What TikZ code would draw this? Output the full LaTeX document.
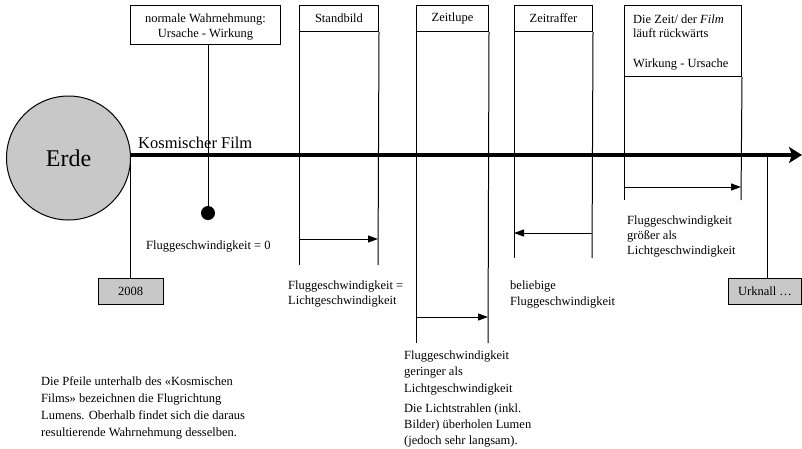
\documentclass[tikz,border=0pt]{standalone}
\usepackage{fontspec}
\setmainfont{Liberation Serif}
\usetikzlibrary{arrows.meta}
\definecolor{lgray}{RGB}{200,200,200}
\begin{document}
\begin{tikzpicture}[x=1pt,y=-1pt,
  txt/.style={inner sep=0pt, align=left, anchor=base west, font=\fontsize{12.5}{16}\selectfont},
  hbox/.style={draw, line width=1pt, inner sep=0pt, anchor=north west, align=center, font=\fontsize{12.5}{15}\selectfont},
  vline/.style={line width=1pt},
  farrow/.style={line width=1pt, -{Triangle[length=10pt,width=7pt]}},
  gbox/.style={draw, fill=lgray, line width=1pt, inner sep=0pt, font=\fontsize{12.5}{15}\selectfont}
]
\useasboundingbox (0,0) rectangle (802,448);

% Earth and cosmic film
\node[circle, draw, fill=lgray, line width=1pt, minimum size=124pt, inner sep=0pt, font=\fontsize{24}{28}\selectfont] (erde) at (68.5,158) {Erde};
\coordinate (filmend) at (802,155);
\draw[line width=4.5pt, -{Stealth[length=13pt,width=16pt,inset=3pt]}] ([yshift=3pt]erde.east) -- (filmend);
\node[inner sep=0pt, anchor=base west, font=\fontsize{16.5}{19}\selectfont] (kf) at (138,148) {Kosmischer Film};

% header boxes
\node[hbox, minimum width=150pt, minimum height=39pt] (nw) at (130,5) {};
\node[inner sep=0pt, align=center, font=\fontsize{12.5}{15}\selectfont] (nwt) at ([yshift=-2pt]nw.center) {normale Wahrnehmung:\\Ursache - Wirkung};
\node[hbox, minimum width=79pt, minimum height=26pt] (sb) at (299,5) {Standbild};
\node[hbox, minimum width=72pt, minimum height=26pt] (zl) at (416,5) {Zeitlupe};
\node[hbox, minimum width=78pt, minimum height=26pt] (zr) at (514,5) {Zeitraffer};
\node[hbox, minimum width=117pt, minimum height=71pt] (dz) at (624,5) {};
\node[txt, font=\fontsize{12.5}{14}\selectfont] (dzt) at (633,67) {Die Zeit/ der \textit{Film}\\läuft rückwärts\\[16pt]Wirkung - Ursache};

% normal perception
\node[circle, fill, inner sep=0pt, minimum size=14pt] (dot) at (208,213) {};
\draw[vline] (dot) -- (dot |- nw.south);
\node[txt] (l0) at (146,249) {Fluggeschwindigkeit = 0};

% Standbild
\coordinate (sbL) at (299,265);
\coordinate (sbR) at (378,265);
\draw[vline] (sb.south west) -- (sbL);
\draw[vline] (sb.south east) -- (sbR);
\coordinate (sbA) at (299,239);
\coordinate (sbB) at (378,239);
\draw[farrow] (sbA) -- (sbB);
\node[txt, font=\fontsize{12.5}{15.5}\selectfont] (l1) at (288,304.5) {Fluggeschwindigkeit =\\Lichtgeschwindigkeit};

% Zeitlupe
\coordinate (zlL) at (416,343);
\coordinate (zlR) at (488,343);
\draw[vline] (zl.south west) -- (zlL);
\draw[vline] (zl.south east) -- (zlR);
\coordinate (zlA) at (416,317);
\coordinate (zlB) at (488,317);
\draw[farrow] (zlA) -- (zlB);
\node[txt, font=\fontsize{12.5}{16.5}\selectfont] (l2) at (404,392) {Fluggeschwindigkeit\\geringer als\\Lichtgeschwindigkeit};
\node[txt] (l2b) at (404,444) {Die Lichtstrahlen (inkl.\\Bilder) überholen Lumen\\(jedoch sehr langsam).};

% Zeitraffer
\coordinate (zrL) at (514,258);
\coordinate (zrR) at (592,258);
\draw[vline] (zr.south west) -- (zrL);
\draw[vline] (zr.south east) -- (zrR);
\coordinate (zrA) at (592,233);
\coordinate (zrB) at (514,233);
\draw[farrow] (zrA) -- (zrB);
\node[txt] (l3) at (510,305) {beliebige\\Fluggeschwindigkeit};

% Zeit rueckwaerts
\coordinate (dzL) at (624,200);
\coordinate (dzR) at (741,200);
\draw[vline] (dz.south west) -- (dzL);
\draw[vline] (dz.south east) -- (dzR);
\coordinate (dzA) at (624,187);
\coordinate (dzB) at (741,187);
\draw[farrow] (dzA) -- (dzB);
\node[txt, font=\fontsize{12.5}{15}\selectfont] (l4) at (627,254) {Fluggeschwindigkeit\\größer als\\Lichtgeschwindigkeit};

% 2008 and Urknall
\node[gbox, minimum width=65pt, minimum height=26pt] (y2008) at (130.5,291) {2008};
\coordinate (k2008) at (130.5,155);
\draw[vline] (k2008) -- (y2008.north);
\node[gbox, minimum width=73pt, minimum height=26pt] (urk) at (765,291) {Urknall …};
\coordinate (kurk) at (767,155);
\draw[vline] (kurk) -- (kurk |- urk.north);

% explanation
\node[txt, font=\fontsize{12.5}{16.7}\selectfont] (expl) at (41,436) {Die Pfeile unterhalb des «Kosmischen\\Films» bezeichnen die Flugrichtung\\Lumens. Oberhalb findet sich die daraus\\resultierende Wahrnehmung desselben.};
\end{tikzpicture}
\end{document}
